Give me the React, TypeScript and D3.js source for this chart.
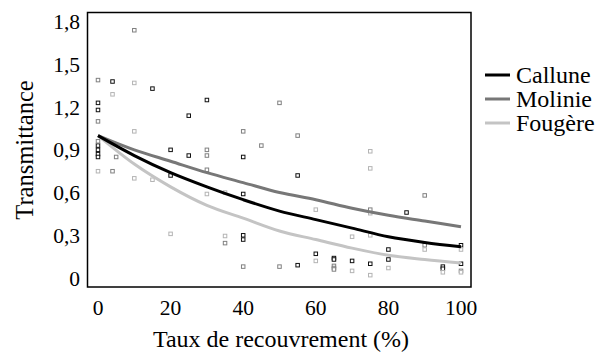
import { useEffect, useRef } from "react";
import { select, scaleLinear, line, curveMonotoneX } from "d3";

const chartWidth = 597;
const chartHeight = 354;

const plotLeft = 87.5;
const plotTop = 12.5;
const plotRight = 471;
const plotBottom = 287;

const fontFamily = "'Liberation Serif', 'Times New Roman', serif";

const curveX = [0, 10, 20, 30, 40, 50, 60, 70, 80, 90, 100];
const callune = [1.0, 0.86, 0.74, 0.64, 0.55, 0.47, 0.41, 0.35, 0.29, 0.25, 0.22];
const molinie = [1.0, 0.9, 0.82, 0.74, 0.67, 0.6, 0.55, 0.49, 0.44, 0.4, 0.36];
const fougere = [1.0, 0.8, 0.64, 0.51, 0.42, 0.33, 0.27, 0.21, 0.16, 0.13, 0.105];

// raw measurements [recouvrement, transmittance]
const callunePoints: [number, number][] = [
  [0, 1.23], [0, 1.18], [0, 0.93], [0, 0.9], [0, 0.87], [0, 0.85],
  [4, 1.38], [15, 1.33], [20, 0.9], [20, 0.72], [25, 1.14], [25, 0.86],
  [30, 1.25], [40, 0.85], [40, 0.59], [40, 0.3], [40, 0.27], [55, 0.72],
  [55, 0.09], [60, 0.17], [65, 0.14], [65, 0.13], [70, 0.12], [75, 0.1],
  [80, 0.2], [80, 0.13], [85, 0.46], [95, 0.08], [95, 0.065], [100, 0.23],
  [100, 0.1],
];
const moliniePoints: [number, number][] = [
  [0, 1.39], [0, 1.1], [0, 0.96], [4, 0.75], [5, 0.85], [10, 1.74],
  [30, 0.9], [30, 0.86], [30, 0.76], [35, 0.245], [40, 1.03], [40, 0.08],
  [45, 0.93], [50, 1.23], [50, 0.08], [55, 1.0], [65, 0.085], [65, 0.07],
  [65, 0.06], [75, 0.48], [90, 0.58], [90, 0.23], [100, 0.05],
];
const fougerePoints: [number, number][] = [
  [0, 0.75], [4, 1.29], [10, 1.37], [10, 1.03], [10, 0.7], [15, 0.69],
  [20, 0.31], [30, 0.59], [35, 0.6], [35, 0.295], [60, 0.48], [60, 0.12],
  [70, 0.29], [70, 0.05], [75, 0.89], [75, 0.77], [75, 0.455], [75, 0.3],
  [75, 0.02], [80, 0.07], [90, 0.2], [95, 0.04], [100, 0.2], [100, 0.04],
];

const xTicks = [0, 20, 40, 60, 80, 100];
const yTicks = [0, 0.3, 0.6, 0.9, 1.2, 1.5, 1.8];

const seriesNames = ["Callune", "Molinie", "Fougère"];
const lineColors = ["#000000", "#777777", "#c4c4c4"];
const pointColors = ["#111111", "#808080", "#b4b4b4"];

export default function App() {
  const svgRef = useRef<SVGSVGElement | null>(null);

  useEffect(() => {
    const svg = select(svgRef.current);
    svg.selectAll("*").remove();

    const x = scaleLinear().domain([0, 100]).range([98, 461]);
    const y = scaleLinear().domain([0, 1.8]).range([278, 21.7]);

    // points first so the curves sit on top
    const allPoints = [callunePoints, moliniePoints, fougerePoints];
    allPoints.forEach((pts, i) => {
      svg
        .append("g")
        .selectAll("rect")
        .data(pts)
        .enter()
        .append("rect")
        .attr("x", (d) => x(d[0]) - 1.75)
        .attr("y", (d) => y(d[1]) - 1.75)
        .attr("width", 3.5)
        .attr("height", 3.5)
        .attr("fill", "white")
        .attr("stroke", pointColors[i])
        .attr("stroke-width", 1);
    });

    const curves = [callune, molinie, fougere];
    const path = line<number>()
      .x((_, i) => x(curveX[i]))
      .y((d) => y(d))
      .curve(curveMonotoneX);
    // draw light first, black last
    [2, 1, 0].forEach((i) => {
      svg
        .append("path")
        .attr("d", path(curves[i]))
        .attr("fill", "none")
        .attr("stroke", lineColors[i])
        .attr("stroke-width", 3);
    });

    svg
      .append("rect")
      .attr("x", plotLeft)
      .attr("y", plotTop)
      .attr("width", plotRight - plotLeft)
      .attr("height", plotBottom - plotTop)
      .attr("fill", "none")
      .attr("stroke", "black")
      .attr("stroke-width", 1.5);

    svg
      .append("g")
      .selectAll("text")
      .data(yTicks)
      .enter()
      .append("text")
      .attr("x", 80)
      .attr("y", (d) => y(d))
      .attr("dy", "0.35em")
      .attr("text-anchor", "end")
      .attr("font-family", fontFamily)
      .attr("font-size", 21.5)
      .text((d) => (d === 0 ? "0" : d.toFixed(1).replace(".", ",")));

    svg
      .append("g")
      .selectAll("text")
      .data(xTicks)
      .enter()
      .append("text")
      .attr("x", (d) => x(d))
      .attr("y", 307)
      .attr("dy", "0.35em")
      .attr("text-anchor", "middle")
      .attr("font-family", fontFamily)
      .attr("font-size", 21.5)
      .text((d) => d);

    svg
      .append("text")
      .attr("x", 281)
      .attr("y", 339)
      .attr("dy", "0.35em")
      .attr("text-anchor", "middle")
      .attr("font-family", fontFamily)
      .attr("font-size", 24)
      .text("Taux de recouvrement (%)");

    svg
      .append("text")
      .attr("transform", "translate(24,150) rotate(-90)")
      .attr("dy", "0.35em")
      .attr("text-anchor", "middle")
      .attr("font-family", fontFamily)
      .attr("font-size", 24.5)
      .text("Transmittance");

    const legend = svg.append("g").attr("transform", "translate(485,75)");
    seriesNames.forEach((name, i) => {
      legend
        .append("line")
        .attr("x1", 0)
        .attr("x2", 25)
        .attr("y1", i * 24)
        .attr("y2", i * 24)
        .attr("stroke", lineColors[i])
        .attr("stroke-width", 3);
      legend
        .append("text")
        .attr("x", 31)
        .attr("y", i * 24)
        .attr("dy", "0.35em")
        .attr("font-family", fontFamily)
        .attr("font-size", 24)
        .text(name);
    });
  }, []);

  return (
    <svg
      ref={svgRef}
      width={chartWidth}
      height={chartHeight}
      style={{ position: "absolute", left: 0, top: 0, background: "white" }}
    />
  );
}
